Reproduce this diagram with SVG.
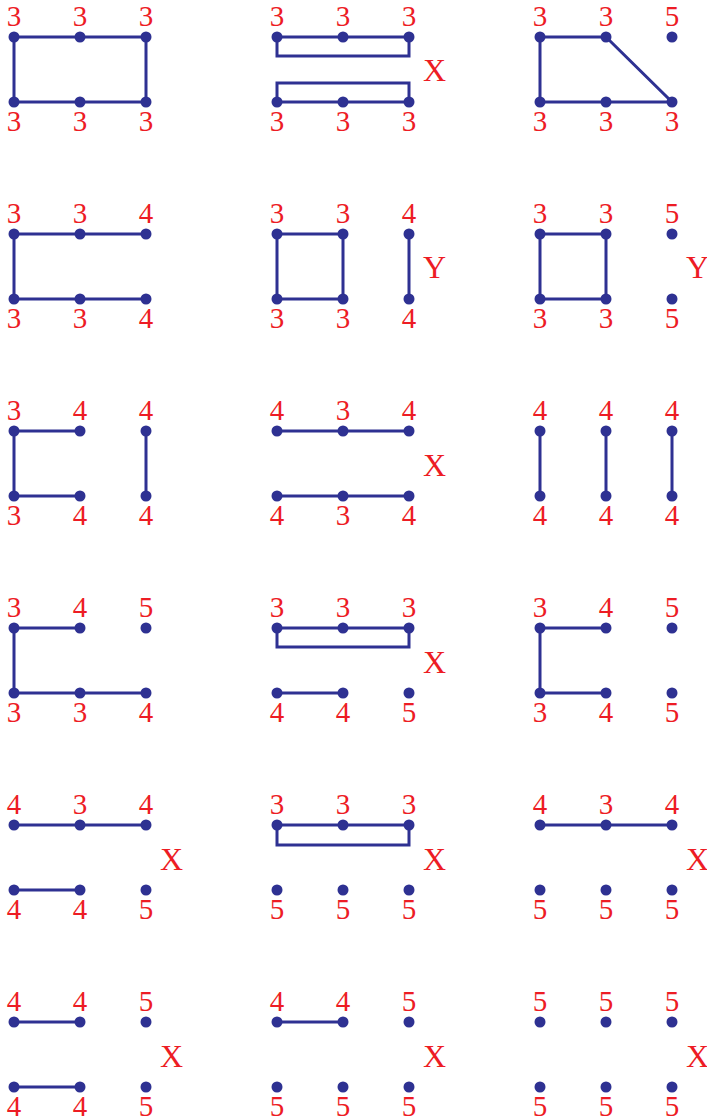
<svg xmlns="http://www.w3.org/2000/svg" width="707" height="1120" viewBox="0 0 707 1120">
<style>
.e{stroke:#2e3192;stroke-width:3;fill:none;stroke-linecap:round;stroke-linejoin:miter}
.n circle{fill:#2e3192}
.n text,.m{font-family:"Liberation Serif",serif;fill:#ed1c24;text-anchor:middle}
.n text{font-size:29px}
.m{font-size:32px;text-anchor:start}
</style>
<rect width="707" height="1120" fill="#fff"/>
<!-- Row 1 -->
<g id="r1c1">
<g class="connectors"><path class="e" d="M14 37H146V102H14Z"/></g>
<g id="r1c1a" class="n"><circle cx="14" cy="37" r="5.5"/><text x="14" y="26">3</text></g>
<g id="r1c1b" class="n"><circle cx="80" cy="37" r="5.5"/><text x="80" y="26">3</text></g>
<g id="r1c1c" class="n"><circle cx="146" cy="37" r="5.5"/><text x="146" y="26">3</text></g>
<g id="r1c1d" class="n"><circle cx="14" cy="102" r="5.5"/><text x="14" y="131">3</text></g>
<g id="r1c1e" class="n"><circle cx="80" cy="102" r="5.5"/><text x="80" y="131">3</text></g>
<g id="r1c1f" class="n"><circle cx="146" cy="102" r="5.5"/><text x="146" y="131">3</text></g>
</g>
<g id="r1c2">
<g class="connectors"><path class="e" d="M277 37H409V56H277Z M277 83H409V102H277Z"/></g>
<g id="r1c2a" class="n"><circle cx="277" cy="37" r="5.5"/><text x="277" y="26">3</text></g>
<g id="r1c2b" class="n"><circle cx="343" cy="37" r="5.5"/><text x="343" y="26">3</text></g>
<g id="r1c2c" class="n"><circle cx="409" cy="37" r="5.5"/><text x="409" y="26">3</text></g>
<g id="r1c2d" class="n"><circle cx="277" cy="102" r="5.5"/><text x="277" y="131">3</text></g>
<g id="r1c2e" class="n"><circle cx="343" cy="102" r="5.5"/><text x="343" y="131">3</text></g>
<g id="r1c2f" class="n"><circle cx="409" cy="102" r="5.5"/><text x="409" y="131">3</text></g>
<text class="m" x="423" y="81">X</text>
</g>
<g id="r1c3">
<g class="connectors"><path class="e" d="M606 37H540V102H672L606 37"/></g>
<g id="r1c3a" class="n"><circle cx="540" cy="37" r="5.5"/><text x="540" y="26">3</text></g>
<g id="r1c3b" class="n"><circle cx="606" cy="37" r="5.5"/><text x="606" y="26">3</text></g>
<g id="r1c3c" class="n"><circle cx="672" cy="37" r="5.5"/><text x="672" y="26">5</text></g>
<g id="r1c3d" class="n"><circle cx="540" cy="102" r="5.5"/><text x="540" y="131">3</text></g>
<g id="r1c3e" class="n"><circle cx="606" cy="102" r="5.5"/><text x="606" y="131">3</text></g>
<g id="r1c3f" class="n"><circle cx="672" cy="102" r="5.5"/><text x="672" y="131">3</text></g>
</g>
<!-- Row 2 -->
<g id="r2c1">
<g class="connectors"><path class="e" d="M146 234H14V299H146"/></g>
<g id="r2c1a" class="n"><circle cx="14" cy="234" r="5.5"/><text x="14" y="223">3</text></g>
<g id="r2c1b" class="n"><circle cx="80" cy="234" r="5.5"/><text x="80" y="223">3</text></g>
<g id="r2c1c" class="n"><circle cx="146" cy="234" r="5.5"/><text x="146" y="223">4</text></g>
<g id="r2c1d" class="n"><circle cx="14" cy="299" r="5.5"/><text x="14" y="328">3</text></g>
<g id="r2c1e" class="n"><circle cx="80" cy="299" r="5.5"/><text x="80" y="328">3</text></g>
<g id="r2c1f" class="n"><circle cx="146" cy="299" r="5.5"/><text x="146" y="328">4</text></g>
</g>
<g id="r2c2">
<g class="connectors"><path class="e" d="M277 234H343V299H277Z M409 234V299"/></g>
<g id="r2c2a" class="n"><circle cx="277" cy="234" r="5.5"/><text x="277" y="223">3</text></g>
<g id="r2c2b" class="n"><circle cx="343" cy="234" r="5.5"/><text x="343" y="223">3</text></g>
<g id="r2c2c" class="n"><circle cx="409" cy="234" r="5.5"/><text x="409" y="223">4</text></g>
<g id="r2c2d" class="n"><circle cx="277" cy="299" r="5.5"/><text x="277" y="328">3</text></g>
<g id="r2c2e" class="n"><circle cx="343" cy="299" r="5.5"/><text x="343" y="328">3</text></g>
<g id="r2c2f" class="n"><circle cx="409" cy="299" r="5.5"/><text x="409" y="328">4</text></g>
<text class="m" x="423" y="278">Y</text>
</g>
<g id="r2c3">
<g class="connectors"><path class="e" d="M540 234H606V299H540Z"/></g>
<g id="r2c3a" class="n"><circle cx="540" cy="234" r="5.5"/><text x="540" y="223">3</text></g>
<g id="r2c3b" class="n"><circle cx="606" cy="234" r="5.5"/><text x="606" y="223">3</text></g>
<g id="r2c3c" class="n"><circle cx="672" cy="234" r="5.5"/><text x="672" y="223">5</text></g>
<g id="r2c3d" class="n"><circle cx="540" cy="299" r="5.5"/><text x="540" y="328">3</text></g>
<g id="r2c3e" class="n"><circle cx="606" cy="299" r="5.5"/><text x="606" y="328">3</text></g>
<g id="r2c3f" class="n"><circle cx="672" cy="299" r="5.5"/><text x="672" y="328">5</text></g>
<text class="m" x="686" y="278">Y</text>
</g>
<!-- Row 3 -->
<g id="r3c1">
<g class="connectors"><path class="e" d="M80 431H14V496H80 M146 431V496"/></g>
<g id="r3c1a" class="n"><circle cx="14" cy="431" r="5.5"/><text x="14" y="420">3</text></g>
<g id="r3c1b" class="n"><circle cx="80" cy="431" r="5.5"/><text x="80" y="420">4</text></g>
<g id="r3c1c" class="n"><circle cx="146" cy="431" r="5.5"/><text x="146" y="420">4</text></g>
<g id="r3c1d" class="n"><circle cx="14" cy="496" r="5.5"/><text x="14" y="525">3</text></g>
<g id="r3c1e" class="n"><circle cx="80" cy="496" r="5.5"/><text x="80" y="525">4</text></g>
<g id="r3c1f" class="n"><circle cx="146" cy="496" r="5.5"/><text x="146" y="525">4</text></g>
</g>
<g id="r3c2">
<g class="connectors"><path class="e" d="M277 431H409 M277 496H409"/></g>
<g id="r3c2a" class="n"><circle cx="277" cy="431" r="5.5"/><text x="277" y="420">4</text></g>
<g id="r3c2b" class="n"><circle cx="343" cy="431" r="5.5"/><text x="343" y="420">3</text></g>
<g id="r3c2c" class="n"><circle cx="409" cy="431" r="5.5"/><text x="409" y="420">4</text></g>
<g id="r3c2d" class="n"><circle cx="277" cy="496" r="5.5"/><text x="277" y="525">4</text></g>
<g id="r3c2e" class="n"><circle cx="343" cy="496" r="5.5"/><text x="343" y="525">3</text></g>
<g id="r3c2f" class="n"><circle cx="409" cy="496" r="5.5"/><text x="409" y="525">4</text></g>
<text class="m" x="423" y="476">X</text>
</g>
<g id="r3c3">
<g class="connectors"><path class="e" d="M540 431V496 M606 431V496 M672 431V496"/></g>
<g id="r3c3a" class="n"><circle cx="540" cy="431" r="5.5"/><text x="540" y="420">4</text></g>
<g id="r3c3b" class="n"><circle cx="606" cy="431" r="5.5"/><text x="606" y="420">4</text></g>
<g id="r3c3c" class="n"><circle cx="672" cy="431" r="5.5"/><text x="672" y="420">4</text></g>
<g id="r3c3d" class="n"><circle cx="540" cy="496" r="5.5"/><text x="540" y="525">4</text></g>
<g id="r3c3e" class="n"><circle cx="606" cy="496" r="5.5"/><text x="606" y="525">4</text></g>
<g id="r3c3f" class="n"><circle cx="672" cy="496" r="5.5"/><text x="672" y="525">4</text></g>
</g>
<!-- Row 4 -->
<g id="r4c1">
<g class="connectors"><path class="e" d="M80 628H14V693H146"/></g>
<g id="r4c1a" class="n"><circle cx="14" cy="628" r="5.5"/><text x="14" y="617">3</text></g>
<g id="r4c1b" class="n"><circle cx="80" cy="628" r="5.5"/><text x="80" y="617">4</text></g>
<g id="r4c1c" class="n"><circle cx="146" cy="628" r="5.5"/><text x="146" y="617">5</text></g>
<g id="r4c1d" class="n"><circle cx="14" cy="693" r="5.5"/><text x="14" y="722">3</text></g>
<g id="r4c1e" class="n"><circle cx="80" cy="693" r="5.5"/><text x="80" y="722">3</text></g>
<g id="r4c1f" class="n"><circle cx="146" cy="693" r="5.5"/><text x="146" y="722">4</text></g>
</g>
<g id="r4c2">
<g class="connectors"><path class="e" d="M277 628H409V647H277Z M277 693H343"/></g>
<g id="r4c2a" class="n"><circle cx="277" cy="628" r="5.5"/><text x="277" y="617">3</text></g>
<g id="r4c2b" class="n"><circle cx="343" cy="628" r="5.5"/><text x="343" y="617">3</text></g>
<g id="r4c2c" class="n"><circle cx="409" cy="628" r="5.5"/><text x="409" y="617">3</text></g>
<g id="r4c2d" class="n"><circle cx="277" cy="693" r="5.5"/><text x="277" y="722">4</text></g>
<g id="r4c2e" class="n"><circle cx="343" cy="693" r="5.5"/><text x="343" y="722">4</text></g>
<g id="r4c2f" class="n"><circle cx="409" cy="693" r="5.5"/><text x="409" y="722">5</text></g>
<text class="m" x="423" y="673">X</text>
</g>
<g id="r4c3">
<g class="connectors"><path class="e" d="M606 628H540V693H606"/></g>
<g id="r4c3a" class="n"><circle cx="540" cy="628" r="5.5"/><text x="540" y="617">3</text></g>
<g id="r4c3b" class="n"><circle cx="606" cy="628" r="5.5"/><text x="606" y="617">4</text></g>
<g id="r4c3c" class="n"><circle cx="672" cy="628" r="5.5"/><text x="672" y="617">5</text></g>
<g id="r4c3d" class="n"><circle cx="540" cy="693" r="5.5"/><text x="540" y="722">3</text></g>
<g id="r4c3e" class="n"><circle cx="606" cy="693" r="5.5"/><text x="606" y="722">4</text></g>
<g id="r4c3f" class="n"><circle cx="672" cy="693" r="5.5"/><text x="672" y="722">5</text></g>
</g>
<!-- Row 5 -->
<g id="r5c1">
<g class="connectors"><path class="e" d="M14 825H146 M14 890H80"/></g>
<g id="r5c1a" class="n"><circle cx="14" cy="825" r="5.5"/><text x="14" y="814">4</text></g>
<g id="r5c1b" class="n"><circle cx="80" cy="825" r="5.5"/><text x="80" y="814">3</text></g>
<g id="r5c1c" class="n"><circle cx="146" cy="825" r="5.5"/><text x="146" y="814">4</text></g>
<g id="r5c1d" class="n"><circle cx="14" cy="890" r="5.5"/><text x="14" y="919">4</text></g>
<g id="r5c1e" class="n"><circle cx="80" cy="890" r="5.5"/><text x="80" y="919">4</text></g>
<g id="r5c1f" class="n"><circle cx="146" cy="890" r="5.5"/><text x="146" y="919">5</text></g>
<text class="m" x="160" y="870">X</text>
</g>
<g id="r5c2">
<g class="connectors"><path class="e" d="M277 825H409V845H277Z"/></g>
<g id="r5c2a" class="n"><circle cx="277" cy="825" r="5.5"/><text x="277" y="814">3</text></g>
<g id="r5c2b" class="n"><circle cx="343" cy="825" r="5.5"/><text x="343" y="814">3</text></g>
<g id="r5c2c" class="n"><circle cx="409" cy="825" r="5.5"/><text x="409" y="814">3</text></g>
<g id="r5c2d" class="n"><circle cx="277" cy="890" r="5.5"/><text x="277" y="919">5</text></g>
<g id="r5c2e" class="n"><circle cx="343" cy="890" r="5.5"/><text x="343" y="919">5</text></g>
<g id="r5c2f" class="n"><circle cx="409" cy="890" r="5.5"/><text x="409" y="919">5</text></g>
<text class="m" x="423" y="870">X</text>
</g>
<g id="r5c3">
<g class="connectors"><path class="e" d="M540 825H672"/></g>
<g id="r5c3a" class="n"><circle cx="540" cy="825" r="5.5"/><text x="540" y="814">4</text></g>
<g id="r5c3b" class="n"><circle cx="606" cy="825" r="5.5"/><text x="606" y="814">3</text></g>
<g id="r5c3c" class="n"><circle cx="672" cy="825" r="5.5"/><text x="672" y="814">4</text></g>
<g id="r5c3d" class="n"><circle cx="540" cy="890" r="5.5"/><text x="540" y="919">5</text></g>
<g id="r5c3e" class="n"><circle cx="606" cy="890" r="5.5"/><text x="606" y="919">5</text></g>
<g id="r5c3f" class="n"><circle cx="672" cy="890" r="5.5"/><text x="672" y="919">5</text></g>
<text class="m" x="686" y="870">X</text>
</g>
<!-- Row 6 -->
<g id="r6c1">
<g class="connectors"><path class="e" d="M14 1022H80 M14 1087H80"/></g>
<g id="r6c1a" class="n"><circle cx="14" cy="1022" r="5.5"/><text x="14" y="1011">4</text></g>
<g id="r6c1b" class="n"><circle cx="80" cy="1022" r="5.5"/><text x="80" y="1011">4</text></g>
<g id="r6c1c" class="n"><circle cx="146" cy="1022" r="5.5"/><text x="146" y="1011">5</text></g>
<g id="r6c1d" class="n"><circle cx="14" cy="1087" r="5.5"/><text x="14" y="1116">4</text></g>
<g id="r6c1e" class="n"><circle cx="80" cy="1087" r="5.5"/><text x="80" y="1116">4</text></g>
<g id="r6c1f" class="n"><circle cx="146" cy="1087" r="5.5"/><text x="146" y="1116">5</text></g>
<text class="m" x="160" y="1067">X</text>
</g>
<g id="r6c2">
<g class="connectors"><path class="e" d="M277 1022H343"/></g>
<g id="r6c2a" class="n"><circle cx="277" cy="1022" r="5.5"/><text x="277" y="1011">4</text></g>
<g id="r6c2b" class="n"><circle cx="343" cy="1022" r="5.5"/><text x="343" y="1011">4</text></g>
<g id="r6c2c" class="n"><circle cx="409" cy="1022" r="5.5"/><text x="409" y="1011">5</text></g>
<g id="r6c2d" class="n"><circle cx="277" cy="1087" r="5.5"/><text x="277" y="1116">5</text></g>
<g id="r6c2e" class="n"><circle cx="343" cy="1087" r="5.5"/><text x="343" y="1116">5</text></g>
<g id="r6c2f" class="n"><circle cx="409" cy="1087" r="5.5"/><text x="409" y="1116">5</text></g>
<text class="m" x="423" y="1067">X</text>
</g>
<g id="r6c3">
<g id="r6c3a" class="n"><circle cx="540" cy="1022" r="5.5"/><text x="540" y="1011">5</text></g>
<g id="r6c3b" class="n"><circle cx="606" cy="1022" r="5.5"/><text x="606" y="1011">5</text></g>
<g id="r6c3c" class="n"><circle cx="672" cy="1022" r="5.5"/><text x="672" y="1011">5</text></g>
<g id="r6c3d" class="n"><circle cx="540" cy="1087" r="5.5"/><text x="540" y="1116">5</text></g>
<g id="r6c3e" class="n"><circle cx="606" cy="1087" r="5.5"/><text x="606" y="1116">5</text></g>
<g id="r6c3f" class="n"><circle cx="672" cy="1087" r="5.5"/><text x="672" y="1116">5</text></g>
<text class="m" x="686" y="1067">X</text>
</g>
</svg>
